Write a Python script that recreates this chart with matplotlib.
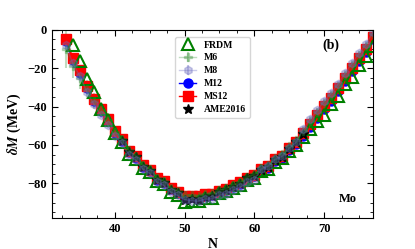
import numpy as np
import matplotlib
matplotlib.use("Agg")
import matplotlib.pyplot as plt
from matplotlib.ticker import MultipleLocator

plt.rcParams['font.family'] = ['Liberation Serif', 'DejaVu Serif']
plt.rcParams['font.weight'] = 'bold'
plt.rcParams['mathtext.fontset'] = 'stix'

# neutron numbers
N_all = list(range(33, 78))
N_frdm = list(range(34, 78))
N_ame = list(range(41, 68))

ms12 = [-4.8, -14.5, -21.0, -29.3, -35.8, -41.3, -46.5, -52.5,
        -57.0, -63.0, -66.0, -70.5, -72.8, -77.3, -79.0, -82.5, -84.3, -86.5,
        -86.5, -86.8, -85.8, -85.5, -83.8, -82.8, -81.0, -79.5, -77.0, -75.6,
        -72.6, -71.0, -67.5, -65.8, -61.6, -58.5, -54.0,
        -49.0, -44.5, -39.5, -35.5, -30.5, -25.0, -19.8, -14.8, -9.8, -3.5]

m12 = [-6.0, -15.8, -22.3, -30.5, -37.0, -42.4, -47.6, -53.5,
       -57.8, -63.8, -66.8, -71.3, -73.6, -78.0, -79.7, -83.2, -85.0, -87.2,
       -87.2, -87.5, -86.5, -86.2, -84.5, -83.5, -81.8, -80.3, -77.8, -76.4,
       -73.4, -71.8, -68.4, -66.7, -62.6, -59.6, -55.2,
       -50.4, -46.0, -41.0, -37.0, -32.0, -26.6, -21.4, -16.4, -11.4, -5.0]

m8 = [-7.8, -17.5, -24.0, -32.3, -38.8, -44.3, -49.5, -55.5,
      -59.0, -65.0, -68.0, -72.5, -74.8, -79.3, -81.0, -84.5, -86.3, -88.5,
      -89.0, -89.3, -88.3, -88.0, -86.3, -85.3, -83.5, -82.0, -79.5, -78.1,
      -72.6, -71.0, -67.5, -65.8, -61.6, -58.5, -51.5,
      -46.5, -42.0, -37.0, -33.0, -28.0, -22.5, -17.3, -12.3, -7.3, -1.0]
m8_err = [2.0, 2.0, 2.0, 1.8, 1.8, 1.6, 1.6, 1.5] + [1.2] * 27 + [1.5] * 10

m6 = [-10.0, -19.0, -25.0, -31.0, -37.0, -42.0, -47.0, -53.0,
      -56.7, -62.7, -65.7, -70.2, -72.5, -77.0, -78.7, -82.2, -84.0, -86.2,
      -86.2, -86.5, -85.5, -85.2, -83.5, -82.5, -80.7, -79.2, -76.7, -75.3,
      -72.0, -70.3, -66.7, -64.8, -60.5, -57.3, -52.7,
      -47.5, -43.0, -38.0, -34.0, -29.0, -23.5, -18.3, -13.3, -8.3, -2.0]
m6_err = [10.0, 6.0, 6.0, 5.0, 4.0, 3.0, 3.0, 2.0] + [1.2] * 27 + [1.5] * 10

frdm = [-7.8, -16.0, -25.7, -32.2, -41.5, -47.0, -53.9,
        -58.2, -64.5, -67.2, -72.0, -74.3, -79.0, -80.6, -84.5, -86.3, -89.6,
        -89.0, -89.4, -87.8, -87.4, -85.1, -84.1, -82.4, -81.0, -78.3, -77.0,
        -73.8, -72.5, -68.8, -67.0, -63.0, -59.8, -55.8,
        -51.5, -47.5, -44.3, -38.7, -34.3, -28.2, -24.6, -18.3, -13.5, -8.5]

ame = [-57.7, -63.8, -66.4, -71.3, -73.4, -78.2, -79.6, -83.5, -85.2, -88.7,
       -88.3, -88.7, -87.1, -86.8, -84.5, -83.6, -81.7, -80.3, -77.4, -76.3,
       -73.0, -71.6, -67.8, -66.1, -61.9, -58.7, -54.3]

fig, ax = plt.subplots(figsize=(4.15, 2.49), dpi=100)
fig.subplots_adjust(left=0.125, right=0.899, bottom=0.125, top=0.88)

h6 = ax.errorbar(N_all, m6, yerr=m6_err, fmt='P-', color='#2e8b2e', alpha=0.3,
                 ms=6, lw=1, elinewidth=1.5, label='M6')
h8 = ax.errorbar(N_all, m8, yerr=m8_err, fmt='h-', color='#6b6bc0', alpha=0.35,
                 ms=6, lw=1, elinewidth=1.5, label='M8')
h12, = ax.plot(N_all, m12, 'o-', color='blue', ms=6.5, lw=1, label='M12')
hs12, = ax.plot(N_all, ms12, 's-', color='red', ms=7, lw=1, label='MS12')
hf, = ax.plot(N_frdm, frdm, '^', color='green', mfc='none', ms=8, mew=1.5,
              label='FRDM')
ha, = ax.plot(N_ame, ame, '*', color='black', ms=7.5, label='AME2016')

ax.set_xlim(31, 77)
ax.set_ylim(-98, 0)
ax.xaxis.set_major_locator(MultipleLocator(10))
ax.xaxis.set_minor_locator(MultipleLocator(2.5))
ax.yaxis.set_major_locator(MultipleLocator(20))
ax.yaxis.set_minor_locator(MultipleLocator(5))
ax.tick_params(which='both', direction='in', top=True, right=True, labelsize=9)
ax.tick_params(which='major', length=4.5)
ax.tick_params(which='minor', length=2.5)
for lab in ax.get_xticklabels() + ax.get_yticklabels():
    lab.set_fontweight('bold')

ax.set_xlabel('N', fontsize=10, fontweight='bold', labelpad=2)
ax.set_ylabel(r'$\delta M$ (MeV)', fontsize=10, fontweight='bold', labelpad=3)

ax.text(0.87, 0.92, '(b)', transform=ax.transAxes, fontsize=10,
        fontweight='bold', ha='center', va='center')
ax.text(0.92, 0.10, 'Mo', transform=ax.transAxes, fontsize=9,
        fontweight='bold', ha='center', va='center')

ax.legend([hf, h6, h8, h12, hs12, ha],
          ['FRDM', 'M6', 'M8', 'M12', 'MS12', 'AME2016'],
          loc='upper center', bbox_to_anchor=(0.5, 0.99),
          labelspacing=0.4, handlelength=1.8, borderpad=0.4,
          prop={'weight': 'bold', 'size': 7})

plt.savefig('out.png', dpi=100)
